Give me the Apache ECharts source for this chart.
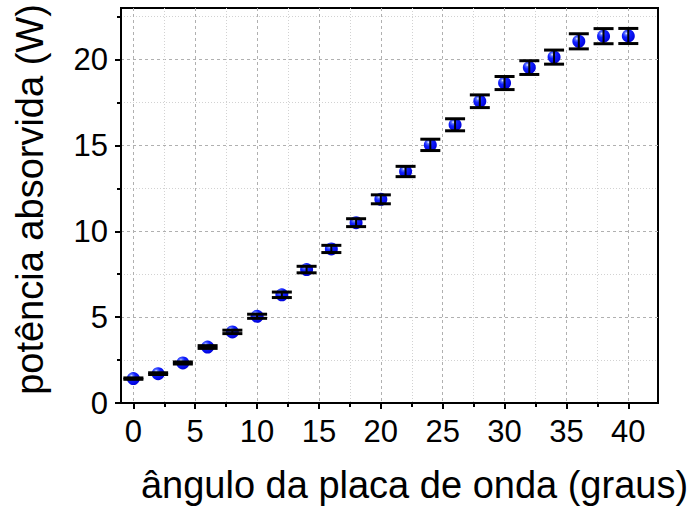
<!DOCTYPE html>
<html><head><meta charset="utf-8">
<script src="https://cdn.jsdelivr.net/npm/echarts@6/dist/echarts.min.js"></script>
<style>html,body{margin:0;padding:0;background:#fff}#c{width:699px;height:515px}</style>
</head><body><div id="c"></div>
<script>
// ---- data ----
const angles   = [0, 2, 4, 6, 8, 10, 12, 14, 16, 18, 20, 22, 24, 26, 28, 30, 32, 34, 36, 38, 40];
const power    = [1.42, 1.71, 2.33, 3.26, 4.14, 5.05, 6.30, 7.77, 8.97, 10.50, 11.86, 13.48, 15.03, 16.20, 17.57, 18.63, 19.53, 20.14, 21.06, 21.36, 21.37];
const powerErr = [0.04, 0.05, 0.06, 0.08, 0.10, 0.12, 0.16, 0.19, 0.21, 0.23, 0.26, 0.30, 0.33, 0.35, 0.37, 0.38, 0.40, 0.41, 0.44, 0.44, 0.44];
const xMajorTicks = [0, 5, 10, 15, 20, 25, 30, 35, 40];
const xMinorTicks = [2.5, 7.5, 12.5, 17.5, 22.5, 27.5, 32.5, 37.5, 42.5];
const yMajorTicks = [0, 5, 10, 15, 20];
const yMinorTicks = [2.5, 7.5, 12.5, 17.5, 22.5];
const xTitle = 'ângulo da placa de onda (graus)';
const yTitle = 'potência absorvida (W)';

const FONT = '"Liberation Sans", Arial, sans-serif';
const chart = echarts.init(document.getElementById('c'), null, {renderer: 'svg'});

const blueBall = new echarts.graphic.RadialGradient(0.35, 0.3, 0.75, [
  {offset: 0, color: '#e8eeff'},
  {offset: 0.16, color: '#5a70ff'},
  {offset: 0.4, color: '#1020ff'},
  {offset: 1, color: '#0000d8'}
]);

function minorAxis(extra) {
  return Object.assign({
    type: 'value',
    axisLine: {show: false, onZero: false},
    axisTick: {show: true, length: 4, lineStyle: {color: '#000', width: 2}},
    axisLabel: {show: false},
    splitLine: {show: true, lineStyle: {color: '#d2d2d2', width: 1, type: [1, 2]}},
    minorTick: {show: false}, minorSplitLine: {show: false}
  }, extra);
}

const option = {
  animation: false,
  backgroundColor: '#fff',
  grid: {left: 121, right: 41, top: 8, bottom: 112, show: true,
         borderColor: '#000', borderWidth: 2, backgroundColor: 'transparent'},
  xAxis: [
    minorAxis({min: -1, max: 42.4, position: 'bottom',
      axisLine: {show: true, onZero: false, lineStyle: {color: '#000', width: 2}},
      axisTick: {show: true, length: 4, customValues: xMinorTicks, lineStyle: {color: '#000', width: 2}}}),
    {
      type: 'value', min: -1, max: 42.4, position: 'bottom',
      axisLine: {show: false, onZero: false},
      axisTick: {show: true, length: 6, customValues: xMajorTicks, lineStyle: {color: '#000', width: 2}},
      axisLabel: {show: true, customValues: xMajorTicks, fontSize: 31, color: '#000', fontFamily: FONT, margin: 13},
      splitLine: {show: true, lineStyle: {color: '#b0b0b0', width: 1, type: [3, 3]}},
      name: xTitle, nameLocation: 'middle', nameGap: 63,
      nameTextStyle: {fontSize: 38, color: '#000', fontFamily: FONT, padding: [0, 0, 0, 50]}
    }
  ],
  yAxis: [
    minorAxis({min: 0, max: 23, position: 'left',
      axisLine: {show: true, onZero: false, lineStyle: {color: '#000', width: 2}},
      axisTick: {show: true, length: 4, customValues: yMinorTicks, lineStyle: {color: '#000', width: 2}}}),
    {
      type: 'value', min: 0, max: 23, position: 'left',
      axisLine: {show: false, onZero: false},
      axisTick: {show: true, length: 6, customValues: yMajorTicks, lineStyle: {color: '#000', width: 2}},
      axisLabel: {show: true, customValues: yMajorTicks, fontSize: 31, color: '#000', fontFamily: FONT, margin: 13},
      splitLine: {show: true, lineStyle: {color: '#b0b0b0', width: 1, type: [3, 3]}},
      name: yTitle, nameLocation: 'middle', nameGap: 72, nameRotate: 90,
      nameTextStyle: {fontSize: 38, color: '#000', fontFamily: FONT, padding: [0, 0, 0, 12]}
    }
  ],
  series: [
    {
      type: 'scatter', xAxisIndex: 0, yAxisIndex: 0, z: 3,
      symbol: 'circle', symbolSize: 13,
      itemStyle: {color: blueBall, opacity: 1},
      data: angles.map((a, i) => [a, power[i]])
    },
    {
      type: 'custom', xAxisIndex: 0, yAxisIndex: 0, z: 4,
      encode: {x: 0, y: 1},
      data: angles.map((a, i) => [a, power[i], powerErr[i]]),
      renderItem: function (params, api) {
        const x = api.value(0), y = api.value(1), e = api.value(2);
        const top = api.coord([x, y + e]);
        const bot = api.coord([x, y - e]);
        const hw = 10;
        return {
          type: 'group',
          children: [
            {type: 'line', shape: {x1: top[0], y1: top[1], x2: bot[0], y2: bot[1]}, style: {stroke: '#000', lineWidth: 2}},
            {type: 'line', shape: {x1: top[0] - hw, y1: top[1], x2: top[0] + hw, y2: top[1]}, style: {stroke: '#000', lineWidth: 3}},
            {type: 'line', shape: {x1: bot[0] - hw, y1: bot[1], x2: bot[0] + hw, y2: bot[1]}, style: {stroke: '#000', lineWidth: 3}}
          ]
        };
      }
    }
  ]
};
chart.setOption(option);
</script>
</body></html>
